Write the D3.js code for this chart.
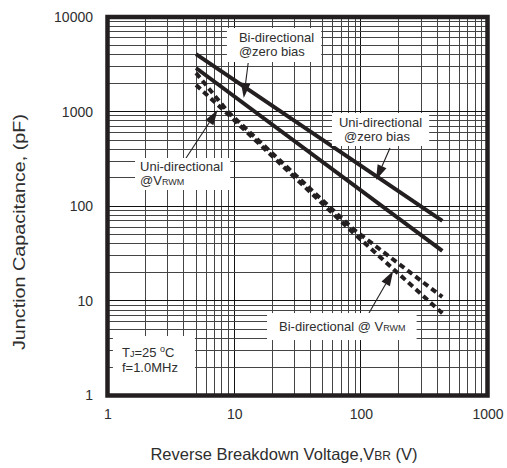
<!DOCTYPE html>
<html><head><meta charset="utf-8">
<script src="https://cdn.jsdelivr.net/npm/d3@7"></script>
<style>body{margin:0;background:#fff}svg{display:block}</style>
</head><body><div id="chart"></div>
<script>
// ---- data ----
const xTickValues = [1, 10, 100, 1000];
const yTickValues = [1, 10, 100, 1000, 10000];
const seriesNames = ["Bi-directional @zero bias", "Uni-directional @zero bias", "Uni-directional @VRWM", "Bi-directional @VRWM"];
const biZeroV = [5, 440];
const biZeroC = [4060, 70];
const uniZeroV = [5, 440];
const uniZeroC = [2890, 33.7];
const uniRwmV = [5, 9, 87, 440];
const uniRwmC = [2560, 985, 57.5, 11];
const biRwmV = [5, 9, 87, 440];
const biRwmC = [1910, 930, 52.5, 7.4];

// ---- layout ----
const W = 507, H = 468;
const margin = {top: 17, right: 19.5, bottom: 72.5, left: 107.5};
const FONT = "'Liberation Sans', Arial, Helvetica, sans-serif";
const INK = "#231f20";

const x = d3.scaleLog().domain([1, 1000]).range([margin.left, W - margin.right]);
const y = d3.scaleLog().domain([1, 10000]).range([H - margin.bottom, margin.top]);

const svg = d3.select("#chart").append("svg").attr("width", W).attr("height", H)
  .style("font-family", FONT);

// grid
const grid = svg.append("g").attr("shape-rendering", "crispEdges");
const isMajor = v => Math.abs(Math.log10(v) - Math.round(Math.log10(v))) < 1e-9;
grid.selectAll("line.v").data(x.ticks()).join("line").attr("class", "v")
  .attr("x1", d => x(d)).attr("x2", d => x(d))
  .attr("y1", y.range()[1]).attr("y2", y.range()[0])
  .attr("stroke", d => isMajor(d) ? "#111" : "#444").attr("stroke-width", 1);
grid.selectAll("line.h").data(y.ticks()).join("line").attr("class", "h")
  .attr("y1", d => y(d)).attr("y2", d => y(d))
  .attr("x1", x.range()[0]).attr("x2", x.range()[1])
  .attr("stroke", d => isMajor(d) ? "#111" : "#444").attr("stroke-width", 1);

// series
const series = [
  {name: seriesNames[0], v: biZeroV, c: biZeroC, dash: null},
  {name: seriesNames[1], v: uniZeroV, c: uniZeroC, dash: null},
  {name: seriesNames[2], v: uniRwmV, c: uniRwmC, dash: "6,4"},
  {name: seriesNames[3], v: biRwmV, c: biRwmC, dash: "6,4"}
];
const line = d3.line().x(d => x(d[0])).y(d => y(d[1]));
svg.append("g").selectAll("path").data(series).join("path")
  .attr("d", s => line(s.v.map((v, i) => [v, s.c[i]])))
  .attr("fill", "none").attr("stroke", INK).attr("stroke-width", 4)
  .attr("stroke-dasharray", s => s.dash);

// annotations (positions in data coordinates)
const annotations = [
  {lines: [[["Bi-directional"]], [["@zero bias"]]], v: 10.9, c: 5441, lh: 14, pad: [2, 7, 3, 12],
   arrow: [12.9, 3265, 11.9, 1393]},
  {lines: [[["Uni-directional"]], [["@zero bias"]]], indent: [0, 5], v: 67.2, c: 688, lh: 14, pad: [2, 7, 2, 7],
   arrow: [169.9, 412.7, 131.8, 189.4]},
  {lines: [[["Uni-directional"]], [["@V"], ["RWM", "s"]]], v: 1.806, c: 235.8, lh: 14, pad: [1, 7, 2, 5],
   arrow: [4.17, 323.6, 7.4, 1040]},
  {lines: [[["Bi-directional @ V"], ["RWM", "s"]]], v: 22.6, c: 4.80, lh: 14, pad: [6, 11, 6, 12],
   arrow: [116, 7.44, 180, 20.7]},
  {lines: [[["T"], ["J", "s"], ["=25 "], ["o", "sup"], ["C"]], [["f=1.0MHz"]]], v: 1.30, c: 2.55, lh: 15, pad: [8, 17, 21, 9]}
];

const arrows = svg.append("g");
annotations.filter(a => a.arrow).forEach(a => {
  const [v1, c1, v2, c2] = a.arrow;
  const x1 = x(v1), y1 = y(c1), x2 = x(v2), y2 = y(c2);
  const dx = x2 - x1, dy = y2 - y1, L = Math.hypot(dx, dy);
  const ux = dx / L, uy = dy / L, hl = 15, hw = 4.8;
  const bx = x2 - ux * hl, by = y2 - uy * hl;
  arrows.append("line").attr("x1", x1).attr("y1", y1).attr("x2", bx).attr("y2", by)
    .attr("stroke", INK).attr("stroke-width", 1.1);
  arrows.append("path")
    .attr("d", `M${x2},${y2}L${bx - uy * hw},${by + ux * hw}L${bx + uy * hw},${by - ux * hw}Z`)
    .attr("fill", INK);
});

const labels = svg.append("g");
annotations.forEach(a => {
  const g = labels.append("g");
  const rect = g.append("rect").attr("fill", "#fff");
  const t = g.append("text").attr("fill", "#2e2e2e").attr("font-size", 13);
  a.lines.forEach((segs, li) => {
    segs.forEach((s, si) => {
      const ts = t.append("tspan").text(s[0]);
      if (si === 0) ts.attr("x", x(a.v) + (a.indent ? a.indent[li] : 0)).attr("y", y(a.c) + li * a.lh);
      if (s[1] === "s") ts.attr("font-size", 9);
      if (s[1] === "sup") ts.attr("font-size", 9).attr("dy", -5);
      if (segs[si - 1] && segs[si - 1][1] === "sup") ts.attr("dy", 5);
    });
  });
  const b = t.node().getBBox();
  const [pt, pr, pb, pl] = a.pad;
  rect.attr("x", b.x - pl).attr("y", b.y - pt).attr("width", b.width + pl + pr).attr("height", b.height + pt + pb);
});

// frame
svg.append("rect")
  .attr("x", x.range()[0]).attr("y", y.range()[1])
  .attr("width", x.range()[1] - x.range()[0]).attr("height", y.range()[0] - y.range()[1])
  .attr("fill", "none").attr("stroke", INK).attr("stroke-width", 4.5);

// axes
const xAxis = svg.append("g").attr("transform", `translate(0,${y.range()[0]})`)
  .call(d3.axisBottom(x).tickValues(xTickValues).tickFormat(d3.format("d")).tickSize(0).tickPadding(14));
const yAxis = svg.append("g").attr("transform", `translate(${x.range()[0]},0)`)
  .call(d3.axisLeft(y).tickValues(yTickValues).tickFormat(d3.format("d")).tickSize(0).tickPadding(14.5));
[xAxis, yAxis].forEach(g => {
  g.select(".domain").remove();
  g.selectAll("text").attr("font-size", 14).attr("font-family", FONT).attr("fill", "#2e2e2e");
});

// axis titles
const xt = svg.append("text").attr("x", 284).attr("y", 460).attr("text-anchor", "middle")
  .attr("font-size", 16.5).attr("fill", "#2e2e2e");
xt.append("tspan").text("Reverse Breakdown Voltage,V");
xt.append("tspan").text("BR").attr("font-size", 12);
xt.append("tspan").text(" (V)");

svg.append("text").attr("transform", "translate(25,232) rotate(-90)").attr("text-anchor", "middle")
  .attr("font-size", 17).attr("fill", "#2e2e2e")
  .attr("textLength", 236).attr("lengthAdjust", "spacingAndGlyphs")
  .text("Junction Capacitance, (pF)");
</script>
</body></html>
